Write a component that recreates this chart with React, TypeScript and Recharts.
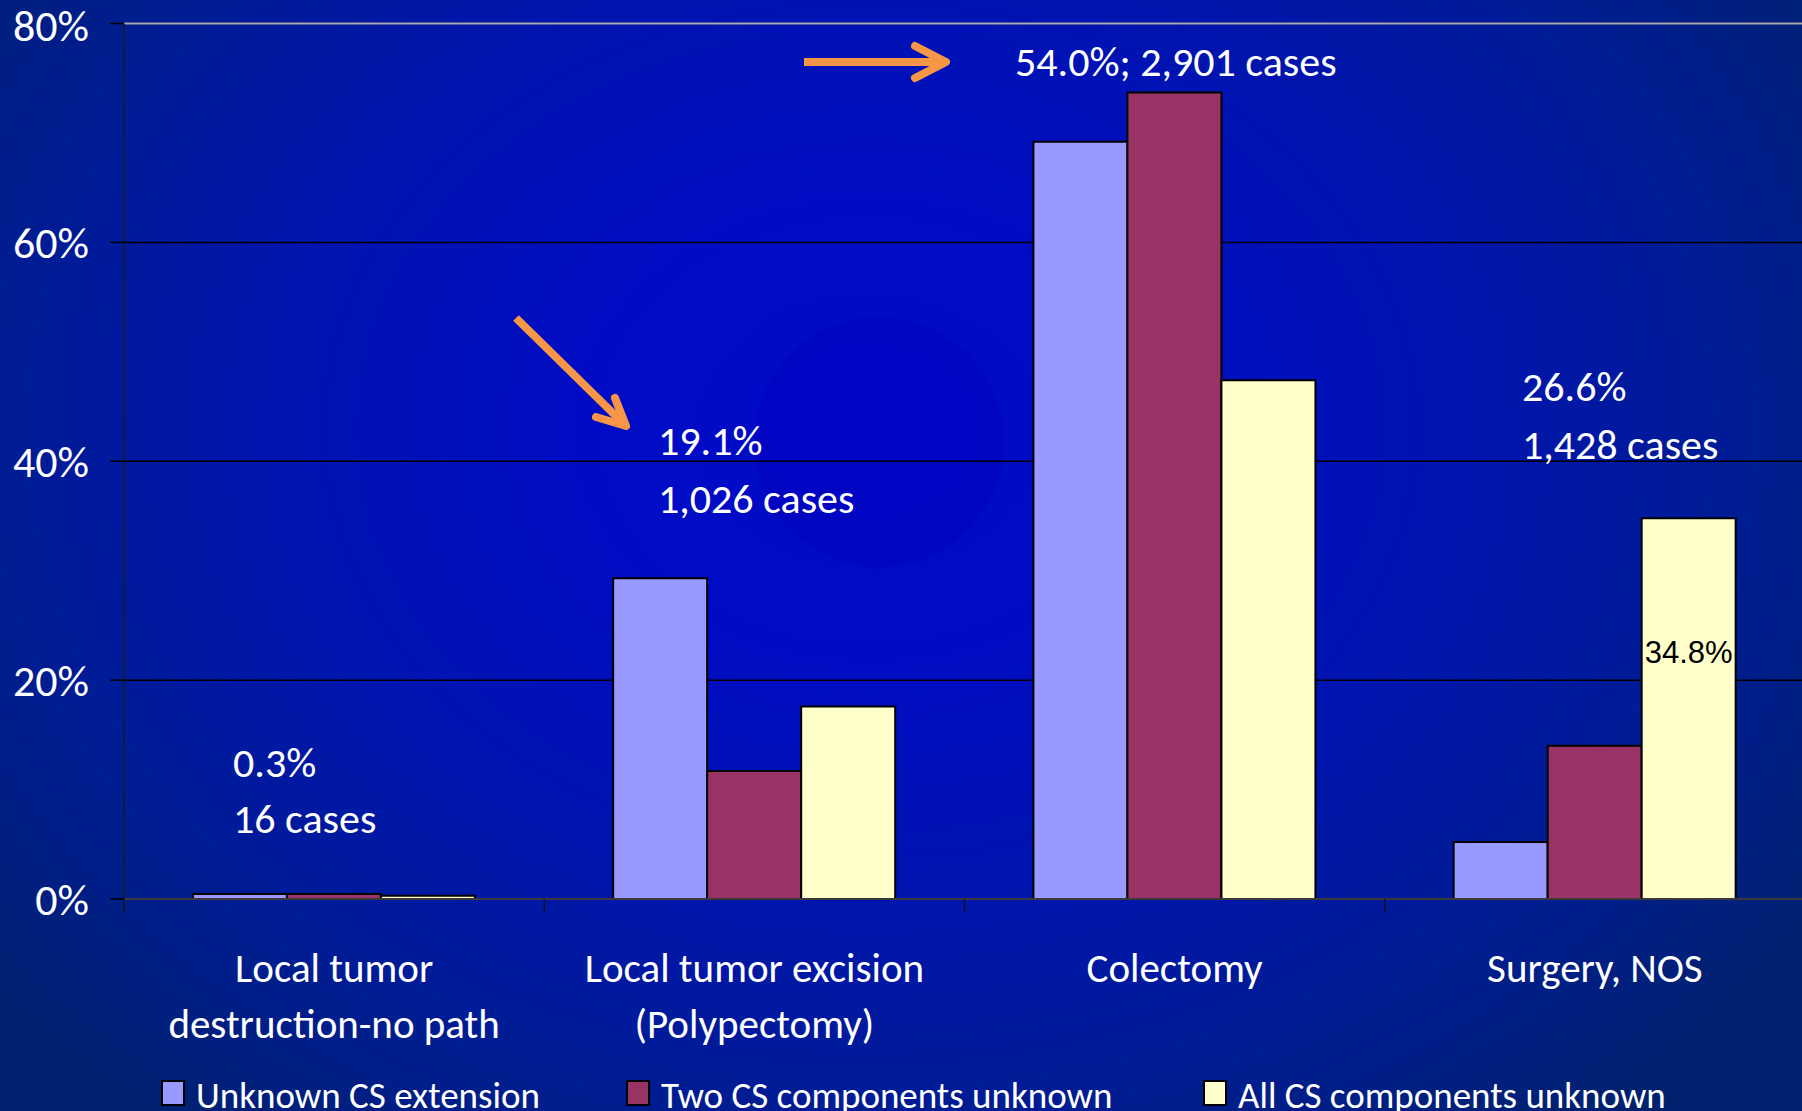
import React from 'react';
import { BarChart, Bar, XAxis, YAxis, CartesianGrid, ReferenceLine, Legend, LabelList } from 'recharts';

// categories and their two-line axis labels
const categories = ['Local tumor destruction-no path', 'Local tumor excision (Polypectomy)', 'Colectomy', 'Surgery, NOS'];
const categoryLines = [
  ['Local tumor', 'destruction-no path'],
  ['Local tumor excision', '(Polypectomy)'],
  ['Colectomy'],
  ['Surgery, NOS'],
];

// series values (% of cases)
const unknownExtension = [0.45, 29.3, 69.2, 5.2];
const twoUnknown = [0.45, 11.7, 73.7, 14.0];
const allUnknown = [0.3, 17.6, 47.4, 34.8];

const seriesKeys = ['unknownExtension', 'twoUnknown', 'allUnknown'];
const seriesNames = ['Unknown CS extension', 'Two CS components unknown', 'All CS components unknown'];
const seriesColors = ['#9999FF', '#993366', '#FFFFCC'];

const yTicks = [0, 20, 40, 60, 80];

// only this bar carries a value label in the original
const labelledCategory = 'Surgery, NOS';

// free annotation text
const annotationLines = [
  { text: '54.0%; 2,901 cases', x: 1015, y: 76 },
  { text: '19.1%', x: 658, y: 455 },
  { text: '1,026 cases', x: 658, y: 513 },
  { text: '26.6%', x: 1522, y: 401 },
  { text: '1,428 cases', x: 1522, y: 459 },
  { text: '0.3%', x: 233, y: 777 },
  { text: '16 cases', x: 233, y: 833 },
];

const data = categories.map((name, i) => ({
  name,
  unknownExtension: unknownExtension[i],
  twoUnknown: twoUnknown[i],
  allUnknown: allUnknown[i],
}));

const W = 1802;
const H = 1111;
const CHART_W = 1805;
const Y_AXIS_W = 124;
const X_AXIS_H = 212;
const TOP = 23.5;
const BAND = (CHART_W - Y_AXIS_W) / categories.length;
const FONT = 'Carlito, Lato, sans-serif';
const ORANGE = '#F79646';

const CategoryTick = (props: any) => {
  const { x, y, index } = props;
  const lines = categoryLines[index] || [];
  const left = x - BAND / 2;
  return (
    <g>
      <line x1={left} x2={left} y1={y} y2={y + 14} stroke="#111" strokeWidth={1.3} />
      {lines.map((l, i) => (
        <text key={i} x={x} y={y + 83 + i * 56} textAnchor="middle" fill="#fff" fontSize={41} fontFamily={FONT}>
          {l}
        </text>
      ))}
    </g>
  );
};

const legendX = [162, 627, 1204];

const LegendContent = () => (
  <svg width={W} height={H} style={{ position: 'absolute', left: 0, top: 0, pointerEvents: 'none' }}>
    {seriesNames.map((name, i) => (
      <g key={name}>
        <rect x={legendX[i]} y={1081} width={22} height={24} fill={seriesColors[i]} stroke="#000" strokeWidth={2} />
        <text x={legendX[i] + 34} y={1108} fill="#fff" fontSize={37} fontFamily={FONT}>
          {name}
        </text>
      </g>
    ))}
  </svg>
);

const BarValueLabel = (props: any) => {
  const { x, y, width, index, value } = props;
  if (categories[index] !== labelledCategory) return null;
  return (
    <text x={x + width / 2} y={y + 145} textAnchor="middle" fill="#000" fontSize={31} fontFamily="'Liberation Sans', Arial, sans-serif">
      {value}%
    </text>
  );
};

export default function App() {
  return (
    <div
      style={{
        position: 'absolute',
        left: 0,
        top: 0,
        width: W,
        height: H,
        overflow: 'hidden',
        background:
          'radial-gradient(circle 127px at 879px 442px, rgba(0,0,190,0.5) 0 97%, rgba(0,0,190,0) 100%), radial-gradient(ellipse 1150px 900px at 870px 430px, #000ac8 0%, #000cc4 25%, #0014b0 50%, #001c94 75%, #00226e 100%)',
      }}
    >
      <BarChart
        width={CHART_W}
        height={H}
        data={data}
        margin={{ top: TOP, right: 0, bottom: 0, left: 0 }}
        barCategoryGap="16.4%"
        barGap={0}
      >
        <CartesianGrid horizontal vertical={false} stroke="#000" strokeWidth={1.5} />
        <ReferenceLine y={80} stroke="#a8a8b8" strokeWidth={2} />
        <XAxis
          dataKey="name"
          height={X_AXIS_H}
          axisLine={{ stroke: '#3a3a3a', strokeWidth: 2 }}
          tickLine={false}
          tickSize={0}
          tickMargin={0}
          interval={0}
          tick={<CategoryTick />}
        />
        <YAxis
          width={Y_AXIS_W}
          domain={[0, 80]}
          ticks={yTicks}
          tickFormatter={(v: number) => `${v}%`}
          axisLine={{ stroke: '#1a1a1a', strokeWidth: 1.5 }}
          tickLine={{ stroke: '#000', strokeWidth: 1.5 }}
          tickSize={14}
          tickMargin={21}
          tick={{ fill: '#fff', fontSize: 44, fontFamily: FONT }}
          allowDataOverflow
        />
        <Legend
          layout="horizontal"
          verticalAlign="middle"
          align="center"
          wrapperStyle={{ left: 0, top: 0, width: W, height: H, pointerEvents: 'none' }}
          content={<LegendContent />}
        />
        {seriesKeys.map((key, i) => (
          <Bar
            key={key}
            dataKey={key}
            name={seriesNames[i]}
            fill={seriesColors[i]}
            stroke="#000"
            strokeWidth={2}
            isAnimationActive={false}
          >
            {key === 'allUnknown' && <LabelList dataKey={key} content={<BarValueLabel />} />}
          </Bar>
        ))}
      </BarChart>

      <svg width={W} height={H} style={{ position: 'absolute', left: 0, top: 0, pointerEvents: 'none' }}>
        {/* arrows */}
        <line x1={804} y1={62} x2={942} y2={62} stroke={ORANGE} strokeWidth={8} />
        <polyline points="915,46 946,62 915,78" fill="none" stroke={ORANGE} strokeWidth={8} strokeLinecap="round" strokeLinejoin="round" />
        <line x1={516} y1={318} x2={622} y2={422} stroke={ORANGE} strokeWidth={8} />
        <polyline points="615,398 626,426 596,417" fill="none" stroke={ORANGE} strokeWidth={8} strokeLinecap="round" strokeLinejoin="round" />
        {annotationLines.map((a, i) => (
          <text key={i} x={a.x} y={a.y} fill="#fff" fontSize={42} fontFamily={FONT}>
            {a.text}
          </text>
        ))}
      </svg>
    </div>
  );
}
